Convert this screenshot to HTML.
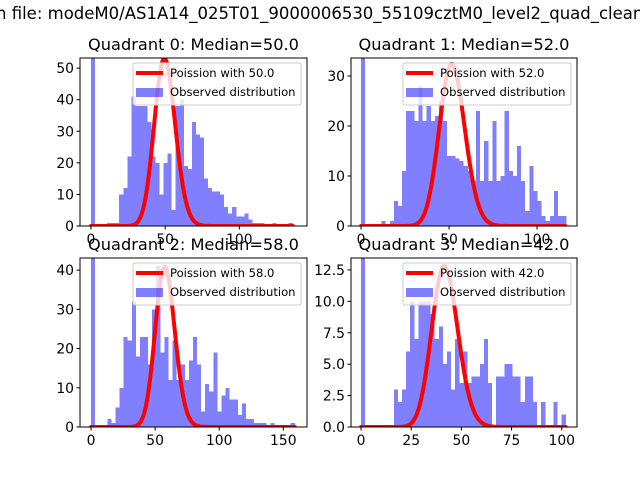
<!DOCTYPE html>
<html><head><meta charset="utf-8"><style>
html,body{margin:0;padding:0;background:#fff;width:640px;height:480px;overflow:hidden}
svg{display:block;font-family:"DejaVu Sans","Liberation Sans",sans-serif}
</style></head><body>
<svg id="fig" width="640" height="480" viewBox="0 0 640 480">
<text x="-4" y="19" font-size="16.5" fill="#000">n file: modeM0/AS1A14_025T01_9000006530_55109cztM0_level2_quad_clean.evt</text>
</svg>
<script>
// ---- data ----
const q0Counts=[55,0,0,0,1,1,1,10,12,22,41,38,38,38,33,22,20,10,20,23,5,38,40,19,18,33,29,28,15,12,11,11,10,6,4,6,3,3,4,2,1,1,1,0,0,1,0,0,0,1];
const q1Counts=[35,0,0,0,0,1,0,1,5,4,11,23,23,21,28,21,24,21,22,25,21,14,14,13.5,13,12,11,9,23,9,17,9,21,9,10,23,11,10,16,9,3,12,7,5,2,1,2,7,2,2];
const q2Counts=[45,0,0,0,2,1,5,10,23,22,32,18,23,23,16,30,41,19,23,12,22,12,16,12,17,23,16,4,11,9,19,4,8,10,7,7,3,6,2,2,1,1,1,0,1,0,0,0,0,1];
const q3Counts=[14,0,0,0,0,0,0,0,3,2,3,6,10,7,10,10,10,9,7,8,5,6,3,7,3.5,6,3.5,4,4,5,7,3.5,0,4,4,5,5,4,4,2,4,4,2,0,2,0,0,2,0,1];
const dataMax=[136,116.6,159,102];
const medians=[50,52,58,42];
const curvePeaks=[53,32.4,40.8,12.8];
const xTicks=[[0,50,100],[0,50,100],[0,50,100,150],[0,25,50,75,100]];
const yTicks=[[0,10,20,30,40,50],[0,10,20,30],[0,10,20,30,40],[0,2.5,5,7.5,10,12.5]];
const yTickLabels=[["0","10","20","30","40","50"],["0","10","20","30"],["0","10","20","30","40"],["0.0","2.5","5.0","7.5","10.0","12.5"]];
// ---- layout ----
const panels=[
 {L:80,R:307,T:58,B:226,xmin:-7.4,xmax:145.6,ymax:53.2,counts:q0Counts},
 {L:351,R:577,T:58,B:226,xmin:-5.7,xmax:122.7,ymax:33.6,counts:q1Counts},
 {L:80,R:307,T:258,B:427,xmin:-8.6,xmax:168.5,ymax:43.1,counts:q2Counts},
 {L:351,R:577,T:258,B:427,xmin:-5,xmax:107.6,ymax:13.45,counts:q3Counts}
];
const NS="http://www.w3.org/2000/svg";
const svg=document.getElementById('fig');
function mk(tag,attrs,parent){const e=document.createElementNS(NS,tag);for(const k in attrs)e.setAttribute(k,attrs[k]);(parent||svg).appendChild(e);return e;}
function lgamma(n){let s=0;for(let i=2;i<=n;i++)s+=Math.log(i);return s;}
function pmf(k,mu){return Math.exp(k*Math.log(mu)-mu-lgamma(k));}

panels.forEach((p,i)=>{
  const xs=v=>p.L+(v-p.xmin)/(p.xmax-p.xmin)*(p.R-p.L);
  const ys=v=>p.B-v/p.ymax*(p.B-p.T);
  const g=mk('g',{});
  
  
  const cp=mk('clipPath',{id:'clip'+i},g);
  mk('rect',{x:p.L,y:p.T,width:p.R-p.L,height:p.B-p.T},cp);
  const plot=mk('g',{'clip-path':'url(#clip'+i+')'},g);
  const n=p.counts.length, bw=dataMax[i]/n;
  p.counts.forEach((c,k)=>{
    const x0=xs(k*bw),x1=xs((k+1)*bw),y=ys(c);
    const r=mk('rect',{x:x0,y:y,width:Math.max(0,x1-x0),height:p.B-y,fill:'#0000ff','fill-opacity':0.5,'shape-rendering':'crispEdges'},plot);
    
    
  });
  const mu=medians[i];
  let pm=0;for(let k=0;k<=Math.floor(dataMax[i]);k++)pm=Math.max(pm,pmf(k,mu));
  const sc=curvePeaks[i]/pm;
  let d='';
  for(let k=0;k<=Math.floor(dataMax[i]);k++){d+=(k?'L':'M')+xs(k).toFixed(2)+','+ys(pmf(k,mu)*sc).toFixed(2);}
  const ln=mk('path',{d:d,fill:'none',stroke:'#ff0000','stroke-width':4,'stroke-linejoin':'round','stroke-linecap':'round'},plot);
  
  
  const fr=mk('rect',{x:p.L,y:p.T,width:p.R-p.L,height:p.B-p.T,fill:'none',stroke:'#000','stroke-width':1},g);
  
  
  xTicks[i].forEach(t=>{
    const x=xs(t);
    mk('line',{x1:x,x2:x,y1:p.B,y2:p.B+3.5,stroke:'#000'},g);
    const tx=mk('text',{x:x,y:p.B+18,'font-size':13.9,'text-anchor':'middle'},g);
    tx.textContent=String(t);
    
    
  });
  yTicks[i].forEach((t,j)=>{
    const y=ys(t);
    mk('line',{x1:p.L-3.5,x2:p.L,y1:y,y2:y,stroke:'#000'},g);
    const tx=mk('text',{x:p.L-6,y:y+5,'font-size':13.9,'text-anchor':'end'},g);
    tx.textContent=yTickLabels[i][j];
    
    
  });
  const lg=mk('g',{},g);
  
  
  const lx=p.R-174, ly=p.T+5;
  mk('rect',{x:lx,y:ly,width:168,height:42,rx:2,fill:'#fff','fill-opacity':0.8,stroke:'#cccccc','stroke-width':1},lg);
  mk('line',{x1:lx+3,x2:lx+30,y1:ly+10,y2:ly+10,stroke:'#ff0000','stroke-width':4},lg);
  const t1=mk('text',{x:lx+37,y:ly+14,'font-size':11.6},lg);
  t1.textContent='Poission with '+mu.toFixed(1);
  
  
  mk('rect',{x:lx+3,y:ly+25,width:27,height:9,fill:'#0000ff','fill-opacity':0.5},lg);
  const t2=mk('text',{x:lx+37,y:ly+33,'font-size':11.6},lg);
  t2.textContent='Observed distribution';
  
  
  const tt=mk('text',{x:(p.L+p.R)/2,y:p.T-8,'font-size':16.2,'text-anchor':'middle'},g);
  tt.textContent='Quadrant '+i+': Median='+mu.toFixed(1);
  
  
});
</script>
</body></html>
